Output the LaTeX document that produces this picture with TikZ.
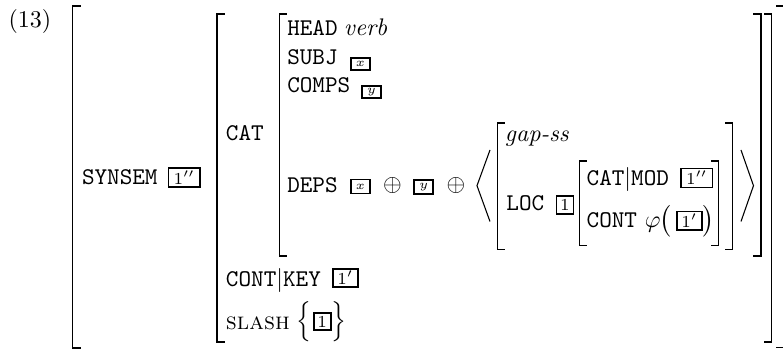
\documentclass[tikz,border=0pt]{standalone}
\usepackage{amsmath}
\begin{document}
\begin{tikzpicture}[x=0.41667pt,y=-0.41667pt,
  brk/.style={line width=0.55pt, line cap=rect, line join=miter},
  ang/.style={line width=0.45pt, line join=miter},
  lab/.style={anchor=base west, inner sep=0pt, outer sep=0pt, font=\ttfamily},
  txt/.style={anchor=base west, inner sep=0pt, outer sep=0pt},
  glyph/.style={anchor=center, inner sep=0pt, outer sep=0pt},
  tagbox/.style={draw, line width=0.75pt, inner sep=0pt, outer sep=0pt, anchor=center},
  bigtag/.style={tagbox, minimum width=13.1pt, minimum height=7.9pt, font=\scriptsize},
  primetag/.style={tagbox, minimum width=10.4pt, minimum height=7.7pt, font=\scriptsize},
  midtag/.style={tagbox, minimum width=7.1pt, minimum height=7.2pt, font=\scriptsize},
  smalltag/.style={tagbox, minimum width=8.0pt, minimum height=5.0pt, font=\tiny},
  deptag/.style={tagbox, minimum width=7.9pt, minimum height=5.9pt, font=\tiny}
]
\useasboundingbox (0,0) rectangle (783,352);
% brackets
\draw[brk] (80,6) -- (72.7,6) -- (72.7,348) -- (80,348);
\draw[brk] (776.5,6) -- (784,6) -- (784,347.5) -- (776.5,347.5);
\draw[brk] (224,14) -- (217,14) -- (217,342) -- (224,342);
\draw[brk] (765,14) -- (771.7,14) -- (771.7,342) -- (765,342);
\draw[brk] (286.5,14) -- (279.5,14) -- (279.5,256) -- (286.5,256);
\draw[brk] (754,14) -- (761,14) -- (761,256) -- (754,256);
\draw[brk] (504.5,123) -- (497.5,123) -- (497.5,249.5) -- (504.5,249.5);
\draw[brk] (726,123) -- (732.7,123) -- (732.7,249.5) -- (726,249.5);
\draw[brk] (586,161) -- (579.5,161) -- (579.5,245.5) -- (586,245.5);
\draw[brk] (712,161) -- (718.5,161) -- (718.5,245.5) -- (712,245.5);
% text
\node[txt] (num) at (8.5,28) {(13)};
\node[lab] (synsem) at (82,185) {SYNSEM};
\node[bigtag] (t1) at (184.3,177.5) {$1''$};
\node[lab] (cat) at (226,140.5) {CAT};
\node[lab] (head) at (287.3,36) {HEAD};
\node[txt] (verb) at (344,36) {\textit{verb}};
\node[lab] (subj) at (287.3,65) {SUBJ};
\node[smalltag] (tx1) at (360.3,64.2) {$x$};
\node[lab] (comps) at (287.3,92.5) {COMPS};
\node[smalltag] (ty1) at (371.5,92.2) {$y$};
\node[lab] (deps) at (287.3,192.7) {DEPS};
\node[deptag] (tx2) at (360.3,186.5) {$x$};
\node[glyph] (op1) at (392.5,185.5) {$\oplus$};
\node[deptag] (ty2) at (423.8,187) {$y$};
\node[glyph] (op2) at (456,185.5) {$\oplus$};
\draw[ang] (490,150) -- (477,185.7) -- (490,221.5);
\node[txt] (gap) at (505,142) {\textit{gap-ss}};
\node[lab] (loc) at (506.5,211) {LOC};
\node[midtag] (t3) at (565,205) {$1$};
\node[lab] (catmod) at (586.7,185.5) {CAT$|$MOD};
\node[bigtag] (t4) at (696.7,178) {$1''$};
\node[lab] (cont) at (586.7,228) {CONT};
\node[txt] (phi) at (645,228) {$\varphi$};
\node[glyph,scale=1.1] (lp) at (666,221) {$\bigl($};
\node[primetag] (t5) at (689.3,220.8) {$1'$};
\node[glyph,scale=1.1] (rp) at (708.5,221) {$\bigr)$};
\draw[ang] (741,150) -- (753.5,185.7) -- (741,221.5);
\node[lab] (contkey) at (226,286.7) {CONT$|$KEY};
\node[primetag] (t6) at (345.3,278) {$1'$};
\node[txt] (slash) at (226,330) {\textsc{slash}};
\node[glyph,scale=0.93] (lb) at (304,321.7) {$\Bigl\{$};
\node[midtag] (t7) at (322.2,321.7) {$1$};
\node[glyph,scale=0.93] (rb) at (339,321.7) {$\Bigr\}$};
\end{tikzpicture}
\end{document}
